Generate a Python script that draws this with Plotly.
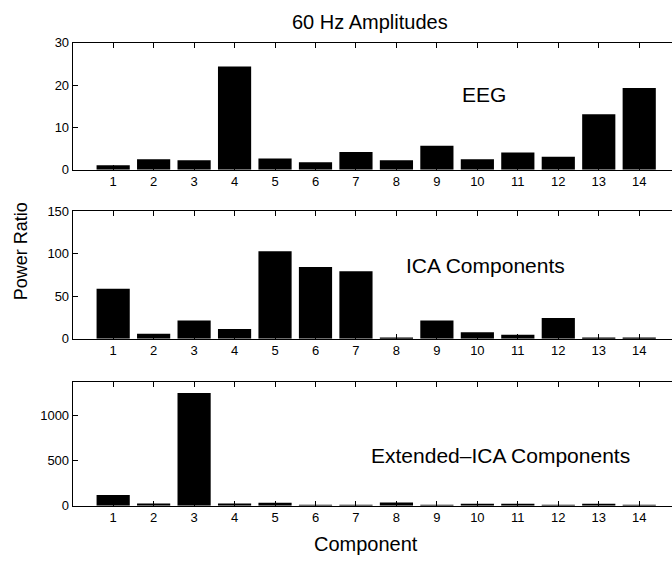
import plotly.graph_objects as go

components = list(range(1, 15))
tick_labels = [str(c) for c in components]

eeg_ratio = [1.1, 2.5, 2.3, 24.4, 2.7, 1.8, 4.2, 2.3, 5.7, 2.5, 4.1, 3.1, 13.1, 19.3]
ica_ratio = [59, 5.7, 21.4, 11.5, 103, 84.4, 79.4, 1.1, 21.4, 7.6, 4.6, 24.4, 1.1, 1.1]
ext_ica_ratio = [119, 25, 1245, 25, 32, 7, 7, 36, 2, 18, 22, 7, 11, 7]

panel_names = ["EEG", "ICA Components", "Extended\u2013ICA Components"]
panel_ranges = [[0, 30], [0, 150], [0, 1370]]
panel_ticks = [[0, 10, 20, 30], [0, 50, 100, 150], [0, 500, 1000]]
series = [eeg_ratio, ica_ratio, ext_ica_ratio]

W, H = 672, 567
FONT = "Liberation Sans, Arial, Helvetica, sans-serif"

# pixel layout (top, bottom) of each panel
panel_px = [(36.7, 167.3), (210.0, 340.7), (385.0, 512.3)]
left_px = 72.7
label_pos = [(484, 90), (485, 266), (500, 461)]

fig = go.Figure()
layout = dict(
    width=W, height=H,
    margin=dict(l=0, r=0, t=0, b=0),
    paper_bgcolor="white", plot_bgcolor="white",
    showlegend=False,
    font=dict(family=FONT, color="black"),
    bargap=0.18,
)
annotations = []
for i, (vals, rng, tks, name) in enumerate(zip(series, panel_ranges, panel_ticks, panel_names)):
    n = i + 1
    xa = "x" if n == 1 else f"x{n}"
    ya = "y" if n == 1 else f"y{n}"
    fig.add_trace(go.Bar(x=components, y=vals, xaxis=xa, yaxis=ya,
                         marker=dict(color="black", line=dict(width=0)),
                         width=0.82))
    top, bot = panel_px[i]
    layout[f"xaxis{'' if n == 1 else n}"] = dict(
        domain=[left_px / W, 1], anchor=ya, range=[0, 14.81],
        tickmode="array", tickvals=components, ticktext=tick_labels,
        ticks="inside", ticklen=5, tickcolor="black", tickwidth=1,
        showline=True, linecolor="black", linewidth=1, mirror="ticks",
        showgrid=False, zeroline=False,
        tickfont=dict(size=13, family=FONT, color="black"),
    )
    layout[f"yaxis{'' if n == 1 else n}"] = dict(
        domain=[1 - bot / H, 1 - top / H], anchor=xa, range=rng,
        tickmode="array", tickvals=tks,
        ticks="inside", ticklen=5, tickcolor="black", tickwidth=1,
        showline=True, linecolor="black", linewidth=1, mirror=False,
        showgrid=False, zeroline=False,
        tickfont=dict(size=13, family=FONT, color="black"),
    )
    lx, ly = label_pos[i]
    annotations.append(dict(text=name, x=lx / W, y=1 - ly / H, xref="paper", yref="paper",
                            showarrow=False, xanchor="center", yanchor="middle",
                            font=dict(size=21, family=FONT, color="black")))

annotations.append(dict(text="60 Hz Amplitudes", x=370 / W, y=1 - 15 / H, xref="paper", yref="paper",
                        showarrow=False, xanchor="center", yanchor="middle",
                        font=dict(size=20, family=FONT, color="black")))
annotations.append(dict(text="Component", x=366 / W, y=1 - 552 / H, xref="paper", yref="paper",
                        showarrow=False, xanchor="center", yanchor="middle",
                        font=dict(size=20, family=FONT, color="black")))
annotations.append(dict(text="Power Ratio", x=21 / W, y=1 - 251 / H, xref="paper", yref="paper",
                        showarrow=False, xanchor="center", yanchor="middle", textangle=-90,
                        font=dict(size=18, family=FONT, color="black")))
layout["annotations"] = annotations
fig.update_layout(**layout)
fig.write_html("out.html")
